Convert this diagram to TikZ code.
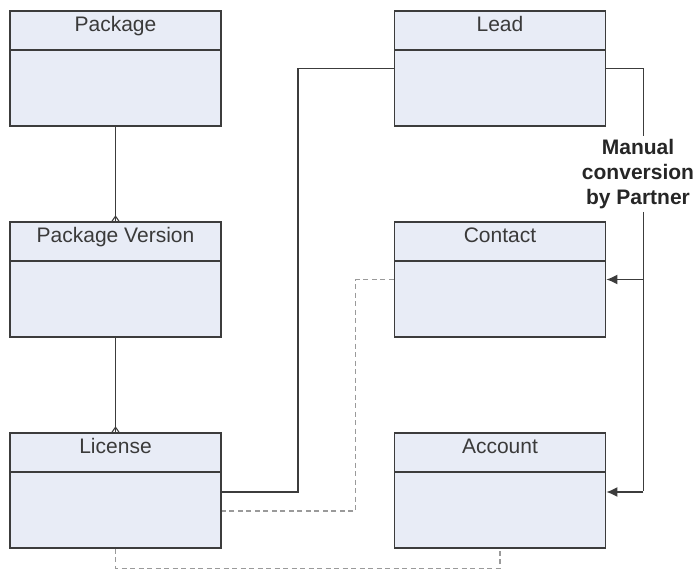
\documentclass[tikz,border=0pt]{standalone}
\usepackage{fontspec}
\setmainfont{Liberation Sans}
\usetikzlibrary{arrows.meta}
\definecolor{boxfill}{HTML}{E8ECF6}
\definecolor{boxline}{HTML}{3C3C3C}
\definecolor{txt}{HTML}{3A3A3A}
\definecolor{dash}{HTML}{9A9A9A}
\begin{document}
\begin{tikzpicture}[x=1pt,y=-1pt,
  entity/.style={draw=boxline, line width=1.6pt, fill=boxfill, minimum width=211pt, minimum height=115pt, inner sep=0pt,
    path picture={\draw[boxline, line width=1.6pt] ([yshift=-39pt]path picture bounding box.north west) -- ([yshift=-39pt]path picture bounding box.north east);},
    label={[anchor=base, yshift=-21pt, text=txt, font=\fontsize{21}{25}\selectfont]north:#1}},
  solidcon/.style={draw=boxline, line width=1.6pt},
  dashcon/.style={draw=dash, line width=1.5pt, dash pattern=on 5pt off 3.5pt},
  arrowcon/.style={solidcon, -{Latex[length=11pt,width=10pt]}},
  note/.style={font=\fontsize{21}{25}\selectfont\bfseries, text=black!85, align=center, inner sep=3pt}
]
\useasboundingbox (0,0) rectangle (696,570);
\node[entity=Package] (pkg) at (115.5,68.5) {};
\node[entity=Package Version] (pv) at (115.5,279.5) {};
\node[entity=License] (lic) at (115.5,490.5) {};
\node[entity=Lead] (lead) at (500,68.5) {};
\node[entity=Contact] (con) at (500,279.5) {};
\node[entity=Account] (acc) at (500,490.5) {};

% crow's feet links
\draw[solidcon] (pkg.south) -- (pv.north);
\draw[solidcon, line width=1.1pt] ([xshift=-3.5pt]pv.north) -- ([yshift=5pt]pv.north) -- ([xshift=3.5pt]pv.north);
\draw[solidcon] (pv.south) -- (lic.north);
\draw[solidcon, line width=1.1pt] ([xshift=-3.5pt]lic.north) -- ([yshift=5pt]lic.north) -- ([xshift=3.5pt]lic.north);

% lead to license
\draw[solidcon] (lead.west) -- ++(-96pt,0) |- ([yshift=-1.5pt]lic.east);
% contact to license
\draw[dashcon] (con.west) -- ++(-38pt,0) |- ([yshift=-20.5pt]lic.east);
% license to account
\draw[dashcon] (lic.south) -- ++(0,-19.5pt) -| (acc.south);

% manual conversion
\node[note] (mc) at (638,174) {Manual\\conversion\\by Partner};
\draw[solidcon] (lead.east) -- ++(37pt,0) coordinate (c1) -- (c1 |- mc.north);
\draw[solidcon] (c1 |- mc.south) -- (c1 |- acc.east);
\draw[arrowcon] (c1 |- con.east) -- (con.east);
\draw[arrowcon] ([yshift=-1.5pt]c1 |- acc.east) -- ([yshift=-1.5pt]acc.east);
\end{tikzpicture}
\end{document}
